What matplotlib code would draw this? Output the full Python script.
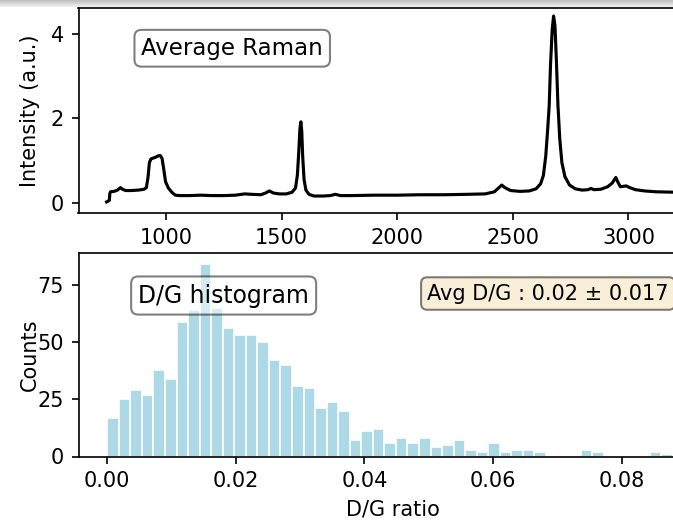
import numpy as np
import matplotlib
matplotlib.use("Agg")
import matplotlib.pyplot as plt

# ---- Average Raman spectrum ----
raman_shift = [743, 750, 755, 757, 760, 775, 790, 803, 812, 825, 850, 880, 905, 915,
               922, 928, 935, 945, 955, 965, 975, 983, 990, 998, 1010, 1025, 1040,
               1060, 1100, 1150, 1200, 1250, 1300, 1340, 1370, 1410, 1430, 1447, 1465,
               1490, 1520, 1545, 1560, 1568, 1574, 1579, 1583, 1587, 1591, 1597, 1605,
               1618, 1640, 1680, 1710, 1732, 1755, 1800, 1900, 2000, 2100, 2200, 2300,
               2380, 2420, 2440, 2452, 2465, 2490, 2530, 2570, 2600, 2620, 2632, 2642,
               2650, 2657, 2663, 2670, 2676, 2682, 2688, 2695, 2703, 2712, 2725, 2745,
               2770, 2800, 2825, 2838, 2850, 2880, 2910, 2930, 2945, 2955, 2965, 2978,
               2990, 3005, 3030, 3070, 3120, 3200, 3260]
raman_intensity = [0.02, 0.04, 0.06, 0.22, 0.26, 0.27, 0.30, 0.36, 0.32, 0.29, 0.29, 0.30, 0.32, 0.36,
                   0.60, 0.95, 1.04, 1.06, 1.08, 1.11, 1.12, 1.05, 0.80, 0.50, 0.35, 0.25, 0.18,
                   0.17, 0.17, 0.18, 0.17, 0.17, 0.18, 0.21, 0.20, 0.19, 0.23, 0.28, 0.23,
                   0.21, 0.21, 0.25, 0.35, 0.65, 1.20, 1.75, 1.92, 1.70, 1.10, 0.55, 0.30,
                   0.20, 0.16, 0.16, 0.17, 0.20, 0.17, 0.17, 0.18, 0.18, 0.19, 0.19, 0.20,
                   0.21, 0.26, 0.36, 0.42, 0.36, 0.29, 0.27, 0.28, 0.33, 0.45, 0.65, 1.10,
                   1.70, 2.30, 3.30, 4.10, 4.43, 4.20, 3.40, 2.30, 1.50, 0.95, 0.62, 0.42,
                   0.33, 0.30, 0.31, 0.34, 0.31, 0.32, 0.38, 0.47, 0.60, 0.48, 0.38, 0.39,
                   0.40, 0.36, 0.31, 0.28, 0.26, 0.25, 0.25]

# ---- D/G histogram (50 bins, counts) ----
dg_min, dg_max, n_bins = 0.0, 0.0898, 50
dg_counts = [17, 25, 29, 27, 38, 34, 59, 64, 84, 65,
             56, 53, 53, 50, 42, 40, 31, 30, 21, 24,
             20, 7, 11, 12, 6, 8, 6, 8, 4, 5,
             7, 3, 2, 6, 2, 3, 3, 2, 0, 0,
             0, 3, 2, 0, 0, 0, 0, 2, 1, 1]
avg_text = "Avg D/G : 0.02 \u00b1 0.017"

W, H, DPI = 673, 527, 150
fig = plt.figure(figsize=(W / DPI, H / DPI), dpi=DPI)

L, R = 78.5, 707.0
ax1 = fig.add_axes([L / W, (H - 213.3) / H, (R - L) / W, (213.3 - 8) / H])
ax2 = fig.add_axes([L / W, (H - 456.5) / H, (R - L) / W, (456.5 - 253) / H])

ax1.plot(raman_shift, raman_intensity, color="black", lw=1.5)
ax1.set_xlim(621.5, 3339.5)
ax1.set_ylim(-0.25, 4.62)
ax1.set_xticks([1000, 1500, 2000, 2500, 3000])
ax1.set_yticks([0, 2, 4])
ax1.set_ylabel("Intensity (a.u.)")
ax1.yaxis.set_label_coords(-0.062, 0.5)
ax1.text(0.1, 0.86, "Average Raman", transform=ax1.transAxes, fontsize=11, va="top",
         bbox=dict(boxstyle="round", facecolor="white", alpha=0.5))

edges = np.linspace(dg_min, dg_max, n_bins + 1)
ax2.hist(edges[:-1], bins=edges, weights=dg_counts, color="lightblue", edgecolor="white", linewidth=0.8)
ax2.set_xlim(-0.00448, 0.0933)
ax2.set_ylim(0, 89)
ax2.set_xticks([0.0, 0.02, 0.04, 0.06, 0.08])
ax2.set_yticks([0, 25, 50, 75])
ax2.set_xlabel("D/G ratio")
ax2.set_ylabel("Counts")
ax2.yaxis.set_label_coords(-0.062, 0.5)
ax2.text(0.095, 0.85, "D/G histogram", transform=ax2.transAxes, fontsize=11.3, va="top",
         bbox=dict(boxstyle="round", facecolor="white", alpha=0.5))
ax2.text(0.555, 0.85, avg_text, transform=ax2.transAxes, fontsize=10, va="top",
         bbox=dict(boxstyle="round", facecolor="wheat", alpha=0.5))

# screenshot shadow band at top
axs = fig.add_axes([0, 1 - 7 / H, 1, 7 / H])
grad = np.linspace(0.74, 0.95, 20)[:, None]
axs.imshow(grad, cmap="gray", vmin=0, vmax=1, aspect="auto")
axs.axis("off")

fig.savefig("out.png", dpi=DPI)
